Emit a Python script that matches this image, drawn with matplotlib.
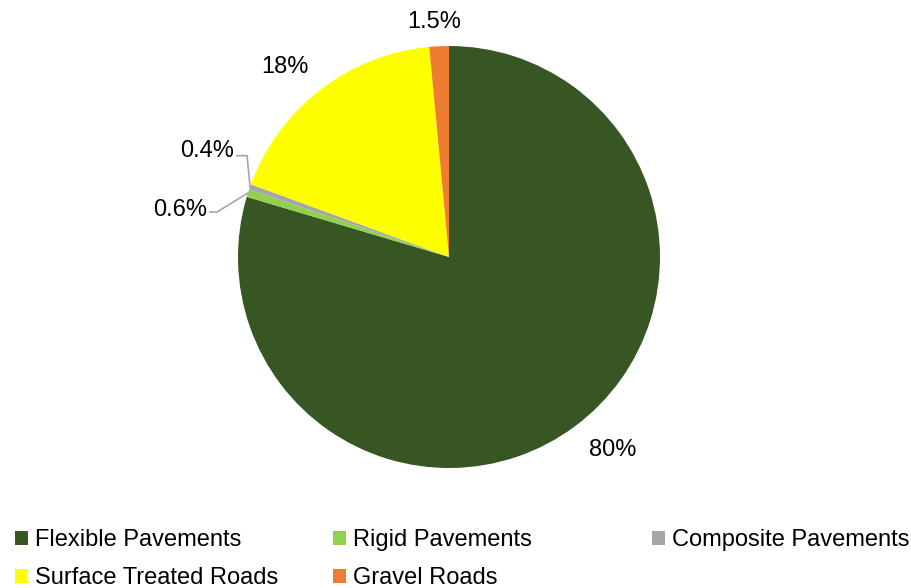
import numpy as np
import matplotlib
matplotlib.use("Agg")
import matplotlib.pyplot as plt
from matplotlib.patches import Patch

plt.rcParams['font.family'] = ['Liberation Sans', 'DejaVu Sans']

categories = ["Flexible Pavements", "Rigid Pavements", "Composite Pavements",
              "Surface Treated Roads", "Gravel Roads"]
values = [80, 0.6, 0.4, 18, 1.5]
labels = ["80%", "0.6%", "0.4%", "18%", "1.5%"]
colors = ["#375623", "#92D050", "#A5A5A5", "#FFFF00", "#ED7D31"]

fig = plt.figure(figsize=(9.12, 5.88), dpi=100)
ax = fig.add_axes([238/912, 120/588, 422/912, 422/588])
wedges, _ = ax.pie(values, colors=colors, startangle=90, counterclock=False,
                   radius=1, wedgeprops=dict(linewidth=0))
ax.set_xlim(-1, 1)
ax.set_ylim(-1, 1)
ax.set_aspect("equal")

fs = 17
lc = "#A6A6A6"

def mid(w, off=0):
    a = np.deg2rad((w.theta1 + w.theta2) / 2 + off)
    return np.cos(a), np.sin(a)

# big slices: label outside, near the mid angle
for i, r, off in [(0, 1.2, 3.7), (3, 1.19, 3.2), (4, 1.115, 1.0)]:
    c, s = mid(wedges[i], off)
    ax.text(r * c, r * s, labels[i], ha="center", va="center", fontsize=fs,
            clip_on=False)

# small slices with leader lines
c, s = mid(wedges[2])
ax.plot([c, -0.957, -1.005], [s, 0.48, 0.48], color=lc, lw=1.2, clip_on=False)
ax.text(-1.02, 0.50, labels[2], ha="right", va="center", fontsize=fs, clip_on=False)

c, s = mid(wedges[1])
ax.plot([c, -1.10, -1.133], [s, 0.213, 0.213], color=lc, lw=1.2, clip_on=False)
ax.text(-1.145, 0.225, labels[1], ha="right", va="center", fontsize=fs, clip_on=False)

handles = [Patch(facecolor=col, edgecolor="none") for col in colors]
cols = [[0, 3], [1, 4], [2]]
xs = [15/912, 333/912, 652/912]
for x, idx in zip(xs, cols):
    fig.legend([handles[k] for k in idx], [categories[k] for k in idx],
               loc="upper left", bbox_to_anchor=(x, 1 - 529/588), frameon=False,
               fontsize=fs, handlelength=0.55, handleheight=0.55,
               handletextpad=0.28, labelspacing=0.68, borderaxespad=0,
               borderpad=0)

fig.savefig("out.png", dpi=100)
